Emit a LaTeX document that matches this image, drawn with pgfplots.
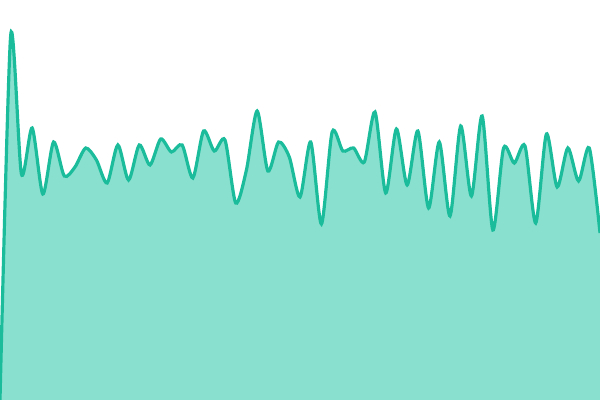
\documentclass[border=0pt]{standalone}
\usepackage{pgfplots}
\pgfplotsset{compat=1.18}
\usepackage{pgfplotstable}
\definecolor{lineteal}{RGB}{26,188,156}
\definecolor{fillteal}{RGB}{138,224,207}

\pgfplotstableread{
i v
0 0
1 365
2 226
3 272
4 206
5 258
6 224
7 233
8 252
9 240
10 217
11 255
12 220
13 255
14 235
15 261
16 248
17 255
18 222
19 269
20 249
21 260
22 197
23 230
24 289
25 229
26 258
27 243
28 203
29 258
30 176
31 268
32 249
33 252
34 238
35 288
36 207
37 271
38 215
39 269
40 192
41 258
42 184
43 274
44 204
45 284
46 170
47 252
48 237
49 254
50 177
51 266
52 213
53 252
54 219
55 252
56 167
}\series

\begin{document}
\begin{tikzpicture}
\begin{axis}[
  width=6in, height=4in,
  scale only axis,
  hide axis,
  xmin=0, xmax=56,
  ymin=0, ymax=400,
  clip=true,
  ]
\addplot [draw=none, fill=fillteal, smooth, tension=0.45] table[x=i,y=v]{\series} \closedcycle;
\addplot [lineteal, line width=2.3pt, smooth, tension=0.45] table[x=i,y=v]{\series};
\end{axis}
\pgfresetboundingbox
\path[use as bounding box] (current axis.south west) rectangle (current axis.north east);
\end{tikzpicture}
\end{document}
